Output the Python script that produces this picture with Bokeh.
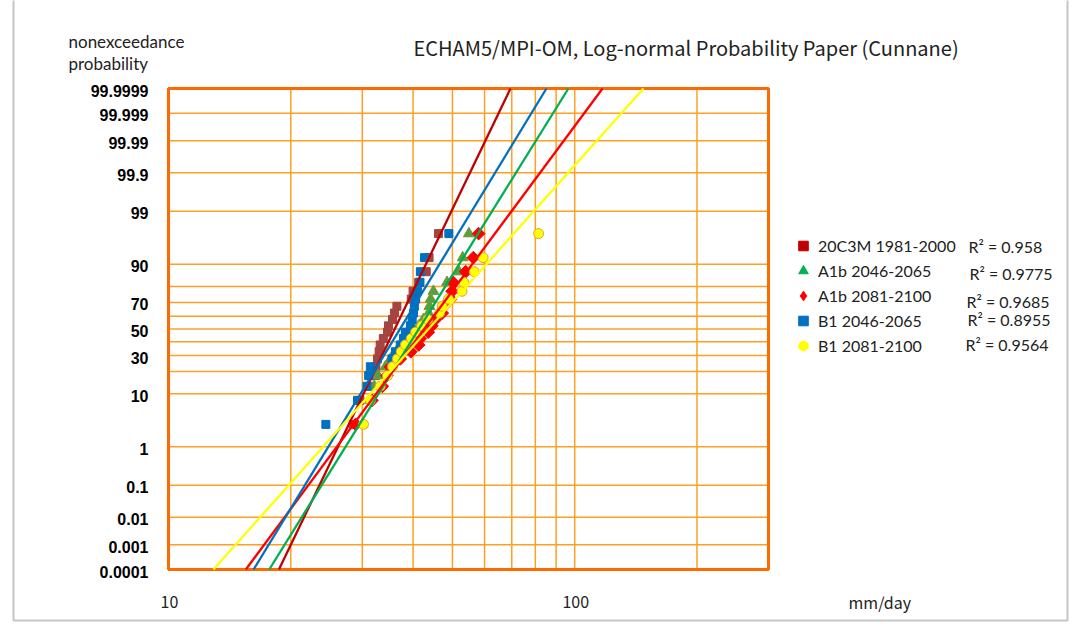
import math
from statistics import NormalDist
from bokeh.plotting import figure
from bokeh.models import Label, Legend, LegendItem, BoxAnnotation, Range1d
from bokeh.core.properties import value
from bokeh.embed import file_html
from bokeh.resources import INLINE

# ---------------- data ----------------
prob_ticks = [0.0001, 0.001, 0.01, 0.1, 1, 10, 20, 30, 40, 50, 60, 70, 80, 90,
              99, 99.9, 99.99, 99.999, 99.9999]
prob_labels = ["0.0001", "0.001", "0.01", "0.1", "1", "10", "", "30", "", "50", "",
               "70", "", "90", "99", "99.9", "99.99", "99.999", "99.9999"]
x_ticks = [10, 20, 30, 40, 50, 60, 70, 80, 90, 100, 200, 300]
x_tick_labels = ["10", "", "", "", "", "", "", "", "", "100", "", ""]

# Cunnane plotting positions (%) for n = 20
plot_pos = [2.970, 7.921, 12.871, 17.822, 22.772, 27.723, 32.673, 37.624, 42.574, 47.525,
            52.475, 57.426, 62.376, 67.327, 72.277, 77.228, 82.178, 87.129, 92.079, 97.030]

series_names = ["20C3M 1981-2000", "A1b 2046-2065", "A1b 2081-2100", "B1 2046-2065", "B1 2081-2100"]

s_20c3m = [28.5, 29.6, 31.4, 32.3, 32.4, 32.7, 33.0, 33.2, 33.8, 34.6,
           34.8, 35.6, 36.0, 36.5, 39.6, 40.0, 41.3, 43.1, 43.8, 46.2]
s_a1b_2046 = [30.0, 31.4, 32.1, 32.8, 34.2, 35.2, 36.4, 37.2, 38.6, 39.9,
              41.3, 42.4, 43.7, 43.9, 44.2, 44.9, 48.5, 51.9, 53.0, 54.9]
s_a1b_2081 = [28.9, 31.7, 33.6, 34.5, 35.2, 37.2, 39.5, 41.3, 41.7, 43.6,
              44.5, 45.4, 47.2, 47.6, 49.5, 49.9, 50.2, 53.9, 56.3, 58.0]
s_b1_2046 = [24.4, 29.2, 30.8, 31.1, 31.4, 35.5, 36.2, 37.2, 37.9, 38.3,
             39.4, 39.8, 40.1, 40.3, 40.6, 41.0, 41.6, 41.7, 42.7, 49.0]
s_b1_2081 = [30.2, 31.4, 33.2, 34.6, 35.6, 36.6, 37.4, 38.3, 39.6, 40.6,
             42.0, 43.5, 46.5, 47.2, 48.9, 52.8, 53.3, 56.6, 59.5, 81.5]

# fitted log-normal lines: mm/day at 0.0001 % and 99.9999 %
line_p = [0.0001, 99.9999]
line_20c3m = [18.7, 69.5]
line_a1b_2046 = [17.7, 96.5]
line_a1b_2081 = [15.5, 117.1]
line_b1_2046 = [16.2, 85.2]
line_b1_2081 = [12.9, 147.7]

r2_values = ["0.958", "0.9775", "0.9685", "0.8955", "0.9564"]

# ---------------- probability scale ----------------
nd = NormalDist()


def pz(p_percent):
    return nd.inv_cdf(p_percent / 100.0)


z_ticks = [pz(v) for v in prob_ticks]
zmin, zmax = pz(prob_ticks[0]), pz(prob_ticks[-1])
xmin, xmax = x_ticks[0], x_ticks[-1]

# layout (pixels): plot box inside a 1076 x 627 canvas
W, H = 1076, 627
FL, FR, FT, FB = 168, 768, 88, 569
dec = (FR - FL) / (math.log10(xmax) - math.log10(xmin))      # px per decade
zpx = (FB - FT) / (zmax - zmin)                                # px per z unit
x_range = Range1d(10 ** (math.log10(xmin) - FL / dec), 10 ** (math.log10(xmax) + (W - FR) / dec))
y_range = Range1d(zmin - (H - FB) / zpx, zmax + FT / zpx)

p = figure(width=W, height=H, x_axis_type="log", x_range=x_range, y_range=y_range,
           x_axis_location=None, y_axis_location=None,
           output_backend="svg", toolbar_location=None,
           min_border=0, outline_line_color=None)
p.background_fill_color = "white"
p.border_fill_color = "white"
p.xgrid.visible = False
p.ygrid.visible = False

GRID = "#FFA024"
# grid lines of the probability paper
p.segment(x0=x_ticks, y0=[zmin] * len(x_ticks), x1=x_ticks, y1=[zmax] * len(x_ticks),
          line_color=GRID, line_width=1.5)
p.segment(x0=[xmin] * len(z_ticks), y0=z_ticks, x1=[xmax] * len(z_ticks), y1=z_ticks,
          line_color=GRID, line_width=1.5)
# plot-area frame
p.quad(left=[xmin], right=[xmax], bottom=[zmin], top=[zmax], fill_color=None,
       line_color="#FF6A00", line_width=3)

# tick labels
yl_z = [z for z, t in zip(z_ticks, prob_labels) if t]
yl_t = [t for t in prob_labels if t]
p.text(x=[xmin] * len(yl_z), y=yl_z, text=yl_t, x_offset=-20, y_offset=2,
       text_align="right", text_baseline="middle", text_font=value("Liberation Sans"),
       text_font_style="bold", text_font_size="16px", text_color="black")
xl_x = [x for x, t in zip(x_ticks, x_tick_labels) if t]
xl_t = [t for t in x_tick_labels if t]
p.text(x=xl_x, y=[zmin] * len(xl_x), text=xl_t, y_offset=32, x_offset=1,
       text_align="center", text_baseline="middle", text_font=value("Noto Sans CJK JP"),
       text_font_size="16px", text_color="#222222")

# scatter series: a vivid layer (used by the legend) under the plotted marker layer
ys = [pz(v) for v in plot_pos]
series = [s_20c3m, s_a1b_2046, s_a1b_2081, s_b1_2046, s_b1_2081]
line_colors = ["#C00000", "#00B050", "#FF0000", "#0070C0", "#FFFF00"]

legend_markers = ["square", "triangle", "diamond", "square", "circle"]
legend_sizes = [6, 9, 7, 6, 8]
legend_renderers = []
for xs, m, s, c in zip(series, legend_markers, legend_sizes, line_colors):
    legend_renderers.append(p.scatter(xs, ys, marker=m, size=s, fill_color=c, line_color=c))

markers = ["square", "triangle", "square", "square", "circle"]
angles = [0, 0, math.pi / 4, 0, 0]
sizes = [8, 11, 9, 8, 10]
fills = ["#A5453F", "#55A043", "#FF0000", "#0070C0", "#FFFF00"]
edges = ["#A5453F", "#7D9A3C", "#FF0000", "#0070C0", "#E0A040"]
for xs, m, a, s, f, e in zip(series, markers, angles, sizes, fills, edges):
    p.scatter(xs, ys, marker=m, angle=a, size=s, fill_color=f, line_color=e)

# fitted lines
lz = [pz(v) for v in line_p]
for xs, c in zip([line_20c3m, line_a1b_2046, line_a1b_2081, line_b1_2046, line_b1_2081], line_colors):
    p.line(xs, lz, line_color=c, line_width=2.3)

# legend
items = [LegendItem(label=name, renderers=[r]) for name, r in zip(series_names, legend_renderers)]
legend = Legend(items=items, location=(791, H - 357.5),
                label_text_font="Lato", label_text_font_size="16px", label_text_color="#222222",
                glyph_width=24, glyph_height=25, label_height=25, label_standoff=3,
                spacing=0, padding=0, margin=0,
                border_line_color=None, background_fill_alpha=0)
p.add_layout(legend)


# free texts (screen units: from the canvas' left / bottom)
def add_label(text, cx, cy, font, size, style="normal", align="left", color="#222222"):
    p.add_layout(Label(x=cx, y=H - cy, x_units="screen", y_units="screen", text=text,
                       text_font=font, text_font_size=size, text_font_style=style,
                       text_align=align, text_baseline="middle", text_color=color))


add_label("ECHAM5/MPI-OM, Log-normal Probability Paper (Cunnane)", 413, 47, "Noto Sans CJK JP", "20px")
add_label("nonexceedance", 68, 41, "Lato", "17px")
add_label("probability", 68, 63, "Lato", "17px")
add_label("mm/day", 848, 601, "Noto Sans CJK JP", "16px")
r2_pos = [(968, 246), (969, 273), (966, 301), (967, 319), (965, 344)]
for v, (cx, cy) in zip(r2_values, r2_pos):
    add_label("R\u00b2 = " + v, cx, cy, "Lato", "16px")

# outer chart-area border
p.add_layout(BoxAnnotation(left=13, right=1067, top=H - 7, bottom=-30,
                           left_units="canvas", right_units="canvas",
                           top_units="canvas", bottom_units="canvas",
                           fill_alpha=0, line_color="#404040", line_width=2))

open("out.html", "w").write(file_html(p, INLINE))
